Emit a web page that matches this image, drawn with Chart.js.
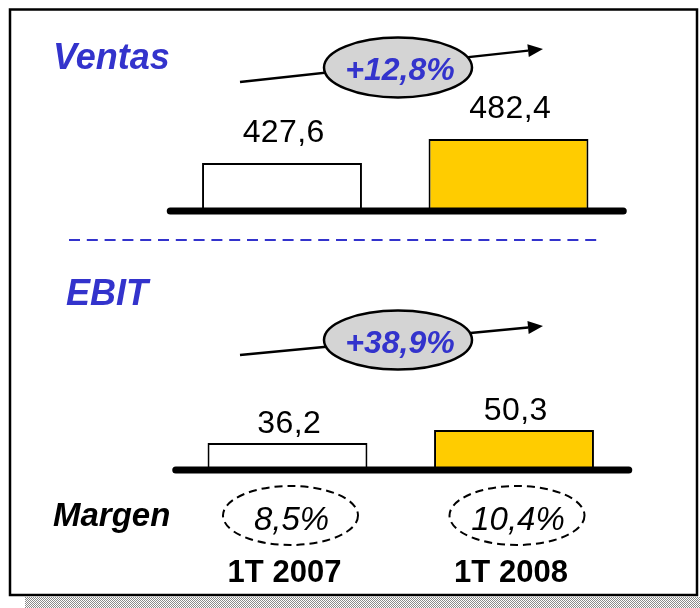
<!DOCTYPE html>
<html>
<head>
<meta charset="utf-8">
<script src="https://cdn.jsdelivr.net/npm/chart.js@4.4.1/dist/chart.umd.min.js"></script>
<style>
  html, body { margin: 0; padding: 0; background: #ffffff; }
  #wrap { position: relative; width: 700px; height: 608px; overflow: hidden; }
  #wrap canvas { position: absolute; left: 0; top: 0; }
</style>
</head>
<body>
<div id="wrap">
  <canvas id="ventasChart" width="700" height="608"></canvas>
  <canvas id="ebitChart" width="700" height="608"></canvas>
</div>
<script>
// ---- data ----
const categories = ['1T 2007', '1T 2008'];
const ventas = [427.6, 482.4];
const ebit = [36.2, 50.3];
const margen = [8.5, 10.4];
const growth = [12.8, 38.9]; // Ventas, EBIT
const titles = ['Ventas', 'EBIT'];
const marginTitle = 'Margen';

const FONT = '"Liberation Sans", Arial, Helvetica, sans-serif';
const BLUE = '#3333cc';
const YELLOW = '#ffcc00';

const fmt = (v) => v.toFixed(1).replace('.', ',');

function drawText(ctx, str, x, y, font, color, align, spacing) {
  ctx.save();
  ctx.font = font;
  ctx.fillStyle = color;
  ctx.textAlign = align || 'center';
  ctx.textBaseline = 'alphabetic';
  if (spacing) ctx.letterSpacing = spacing + 'px';
  ctx.fillText(str, x + (spacing && (align || 'center') === 'center' ? spacing / 2 : 0), y);
  ctx.restore();
}

function drawArrow(ctx, x1, y1, x2, y2) {
  const ang = Math.atan2(y2 - y1, x2 - x1);
  const hl = 15, hw = 6.5;
  const bx = x2 - hl * Math.cos(ang), by = y2 - hl * Math.sin(ang);
  ctx.save();
  ctx.strokeStyle = '#000';
  ctx.lineWidth = 2.5;
  ctx.beginPath();
  ctx.moveTo(x1, y1);
  ctx.lineTo(bx, by);
  ctx.stroke();
  ctx.fillStyle = '#000';
  ctx.beginPath();
  ctx.moveTo(x2, y2);
  ctx.lineTo(bx + hw * Math.sin(ang), by - hw * Math.cos(ang));
  ctx.lineTo(bx - hw * Math.sin(ang), by + hw * Math.cos(ang));
  ctx.closePath();
  ctx.fill();
  ctx.restore();
}

function drawEllipse(ctx, cx, cy, rx, ry, fill, dash) {
  ctx.save();
  ctx.beginPath();
  ctx.ellipse(cx, cy, rx, ry, 0, 0, Math.PI * 2);
  if (fill) { ctx.fillStyle = fill; ctx.fill(); }
  ctx.strokeStyle = '#000';
  ctx.lineWidth = dash ? 2 : 2.5;
  if (dash) ctx.setLineDash(dash);
  ctx.stroke();
  ctx.restore();
}

function drawBaseline(chart) {
  const ctx = chart.ctx, a = chart.chartArea;
  ctx.save();
  ctx.strokeStyle = '#000';
  ctx.lineWidth = 7;
  ctx.lineCap = 'round';
  ctx.beginPath();
  ctx.moveTo(a.left + 1.5, a.bottom);
  ctx.lineTo(a.right + 1.5, a.bottom);
  ctx.stroke();
  ctx.restore();
}

function drawValueLabels(chart, values, gap) {
  const meta = chart.getDatasetMeta(0);
  meta.data.forEach((bar, i) => {
    drawText(chart.ctx, fmt(values[i]), bar.x + 1.5, bar.y - gap,
      '32px ' + FONT, '#000', 'center', 0.4);
  });
}

function baseOptions(pad, min, max) {
  return {
    responsive: false,
    animation: false,
    devicePixelRatio: 1,
    layout: { padding: pad },
    scales: {
      x: { display: false },
      y: { display: false, min: min, max: max }
    },
    plugins: { legend: { display: false }, tooltip: { enabled: false } }
  };
}

function dataset(values) {
  return {
    data: values,
    backgroundColor: ['#ffffff', YELLOW],
    borderColor: '#000000',
    borderWidth: 2,
    borderSkipped: 'start',
    barPercentage: 0.706,
    categoryPercentage: 1
  };
}

// ---- Ventas chart (bottom layer: frame, background) ----
const ventasPlugin = {
  id: 'ventasDeco',
  beforeDraw(chart) {
    const ctx = chart.ctx;
    ctx.save();
    ctx.fillStyle = '#ffffff';
    ctx.fillRect(0, 0, chart.width, chart.height);
    // hatched shadow
    const pc = document.createElement('canvas');
    pc.width = 2; pc.height = 2;
    const pctx = pc.getContext('2d');
    pctx.fillStyle = '#ffffff'; pctx.fillRect(0, 0, 2, 2);
    pctx.fillStyle = '#8a8a8a';
    pctx.fillRect(0, 0, 1, 1); pctx.fillRect(1, 1, 1, 1);
    ctx.fillStyle = ctx.createPattern(pc, 'repeat');
    ctx.fillRect(25, 597, 675, 11);
    // frame
    ctx.strokeStyle = '#000';
    ctx.lineWidth = 2.5;
    ctx.strokeRect(10, 9.5, 687, 585.5);
    ctx.restore();
  },
  afterDatasetsDraw(chart) {
    const ctx = chart.ctx;
    drawBaseline(chart);
    drawValueLabels(chart, ventas, 20.5);
    drawText(ctx, titles[0], 53, 69, 'italic bold 36px ' + FONT, BLUE, 'left');
    drawArrow(ctx, 240, 82, 543, 49);
    drawEllipse(ctx, 398, 67.5, 74, 30, '#d4d4d4');
    drawText(ctx, '+' + fmt(growth[0]) + '%', 400, 79.5, 'italic bold 32px ' + FONT, BLUE, 'center');
    // dashed separator
    ctx.save();
    ctx.strokeStyle = BLUE;
    ctx.lineWidth = 2;
    ctx.setLineDash([11, 6.8]);
    ctx.beginPath();
    ctx.moveTo(69, 240);
    ctx.lineTo(601, 240);
    ctx.stroke();
    ctx.restore();
  }
};

new Chart(document.getElementById('ventasChart'), {
  type: 'bar',
  data: { labels: categories, datasets: [dataset(ventas)] },
  options: baseOptions({ left: 168.75, right: 78.25, top: 87, bottom: 397 }, 318, 601),
  plugins: [ventasPlugin]
});

// ---- EBIT chart (top layer, transparent) ----
const ebitPlugin = {
  id: 'ebitDeco',
  afterDatasetsDraw(chart) {
    const ctx = chart.ctx;
    drawBaseline(chart);
    drawValueLabels(chart, ebit, 10.5);
    drawText(ctx, titles[1], 66, 305, 'italic bold 36px ' + FONT, BLUE, 'left');
    drawArrow(ctx, 240, 355, 543, 326);
    drawEllipse(ctx, 398, 340, 74, 29.5, '#d4d4d4');
    drawText(ctx, '+' + fmt(growth[1]) + '%', 400, 352.5, 'italic bold 32px ' + FONT, BLUE, 'center');
    drawText(ctx, marginTitle, 53, 526, 'italic bold 33px ' + FONT, '#000', 'left');
    const meta = chart.getDatasetMeta(0);
    meta.data.forEach((bar, i) => {
      drawEllipse(ctx, bar.x + 3, 515.5, 67.5, 29.5, null, [8, 5]);
      drawText(ctx, fmt(margen[i]) + '%', bar.x + 4, 530, 'italic 33px ' + FONT, '#000', 'center');
      drawText(ctx, categories[i], bar.x - 3, 582, 'bold 31px ' + FONT, '#000', 'center');
    });
  }
};

new Chart(document.getElementById('ebitChart'), {
  type: 'bar',
  data: { labels: categories, datasets: [dataset(ebit)] },
  options: baseOptions({ left: 174.25, right: 72.75, top: 370, bottom: 138 }, 7, 115.5),
  plugins: [ebitPlugin]
});
</script>
</body>
</html>
